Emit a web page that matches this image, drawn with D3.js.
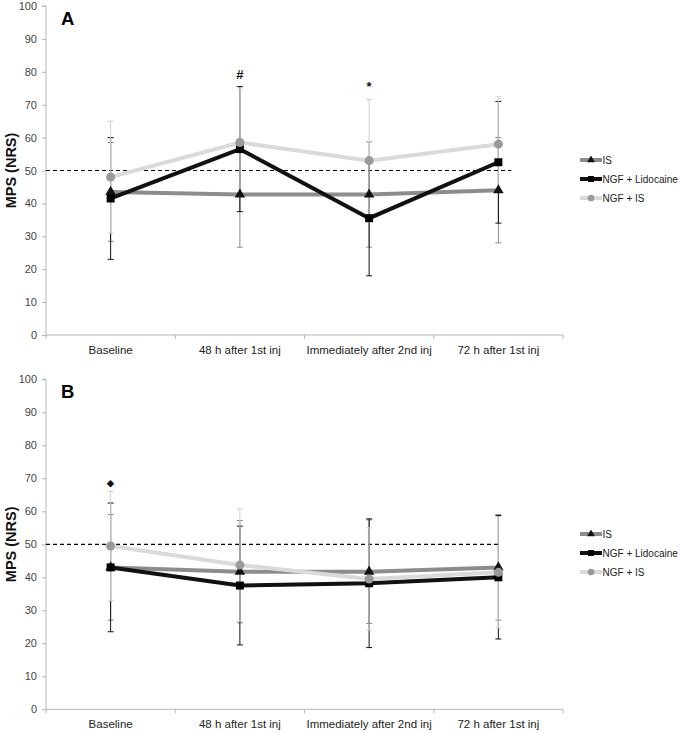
<!DOCTYPE html>
<html><head><meta charset="utf-8">
<script src="https://cdn.jsdelivr.net/npm/d3@7"></script>
<style>body{margin:0;background:#fff}svg{display:block;font-family:"Liberation Sans",Arial,sans-serif}</style>
</head><body><svg id="c" width="685" height="733"></svg>
<script>
const categories = ["Baseline", "48 h after 1st inj", "Immediately after 2nd inj", "72 h after 1st inj"];
const yTicks = [0,10,20,30,40,50,60,70,80,90,100];
const seriesNames = ["IS", "NGF + Lidocaine", "NGF + IS"];
// Panel A
const A_IS = [43.5, 42.7, 42.7, 44];
const A_IS_sd = [15, 16, 16, 16];
const A_Lido = [41.5, 56.5, 35.5, 52.5];
const A_Lido_sd = [18.5, 19, 17.5, 18.5];
const A_NGFIS = [48, 58.5, 53, 58];
const A_NGFIS_sd = [17, 16.5, 18.6, 14.4];
const A_marks = [{cat:1, y:79, t:"#"}, {cat:2, y:75.5, t:"*"}];
// Panel B
const B_IS = [43, 41.7, 41.7, 43];
const B_IS_sd = [16, 15.5, 15.7, 16];
const B_Lido = [43, 37.5, 38.2, 40];
const B_Lido_sd = [19.5, 18, 19.5, 18.7];
const B_NGFIS = [49.5, 43.7, 39.5, 41.5];
const B_NGFIS_sd = [16.5, 17, 15.5, 16.8];
const B_marks = [{cat:0, y:69, t:"◆"}];
const threshold = 50;

const colors = {"IS":"#8c8c8c", "NGF + Lidocaine":"#111111", "NGF + IS":"#dadada"};
const markerFill = {"IS":"#111", "NGF + Lidocaine":"#000", "NGF + IS":"#9a9a9a"};
const markerType = {"IS":d3.symbolTriangle, "NGF + Lidocaine":d3.symbolSquare, "NGF + IS":d3.symbolCircle};
const markerSize = {"IS":48, "NGF + Lidocaine":64, "NGF + IS":64};
const lineW = {"IS":4, "NGF + Lidocaine":4, "NGF + IS":4};

const svg = d3.select("#c");

function panel(cfg){
  const g = svg.append("g");
  const x = d3.scaleBand().domain(categories).range([46, 563]);
  const y = d3.scaleLinear().domain([0,100]).range([cfg.y0, cfg.y100]);
  // y axis
  const ya = g.append("g").attr("transform","translate(46,0)")
    .call(d3.axisLeft(y).tickValues(yTicks).tickSize(4).tickPadding(5));
  ya.selectAll("path,line").attr("stroke","#b5b5b5");
  ya.select(".domain").attr("d", `M-4,${y(100)}H0V${y(0)}`);
  ya.selectAll("text").attr("font-size",11).attr("fill","#444").attr("font-family","Liberation Sans, Arial, sans-serif");
  // x axis
  const xa = g.append("g").attr("transform",`translate(0,${y(0)})`);
  xa.append("line").attr("x1",46).attr("x2",563).attr("stroke","#b5b5b5");
  const bounds = categories.map(c=>x(c)).concat([x.range()[1]]);
  xa.selectAll("line.t").data(bounds).join("line").attr("class","t")
    .attr("x1",d=>d).attr("x2",d=>d).attr("y1",0).attr("y2",4).attr("stroke","#b5b5b5");
  xa.selectAll("text").data(categories).join("text")
    .attr("x",d=>x(d)+x.bandwidth()/2).attr("y",19).attr("text-anchor","middle")
    .attr("font-size",11.5).attr("fill","#222").text(d=>d);
  // y label
  g.append("text").attr("transform",`translate(15.5,${y(50)}) rotate(-90)`)
    .attr("text-anchor","middle").attr("font-weight","bold").attr("font-size",14.5).attr("fill","#111").text("MPS (NRS)");
  // panel letter
  g.append("text").attr("x",61).attr("y",y(100)+18.5).attr("font-weight","bold").attr("font-size",18.5).attr("fill","#000").text(cfg.letter);
  // threshold
  const cx = c => x(categories[c]) + x.bandwidth()/2;
  g.append("line").attr("x1",46).attr("x2",cx(3)+cfg.dashExt*x.bandwidth())
    .attr("y1",y(threshold)).attr("y2",y(threshold)).attr("stroke","#000").attr("stroke-width",1.2).attr("stroke-dasharray","4,3");
  // error bars
  cfg.series.forEach(s=>{
    s.vals.forEach((v,i)=>{
      const sd = s.sd[i], X = cx(i);
      const eg = g.append("g").attr("stroke", s.name==="NGF + IS" ? "#d0d0d0" : (s.name==="IS"?"#8a8a8a":"#111")).attr("stroke-width",1);
      eg.append("line").attr("x1",X).attr("x2",X).attr("y1",y(v-sd)).attr("y2",y(v+sd));
      [v-sd, v+sd].forEach(e=>eg.append("line").attr("x1",X-3).attr("x2",X+3).attr("y1",y(e)).attr("y2",y(e)));
    });
  });
  // lines & markers
  cfg.series.forEach(s=>{
    const line = d3.line().x((d,i)=>cx(i)).y(d=>y(d));
    g.append("path").datum(s.vals).attr("d",line).attr("fill","none")
      .attr("stroke",colors[s.name]).attr("stroke-width",lineW[s.name]).attr("stroke-linejoin","miter");
    g.selectAll(null).data(s.vals).join("path")
      .attr("transform",(d,i)=>`translate(${cx(i)},${y(d)})`)
      .attr("d",d3.symbol().type(markerType[s.name]).size(markerSize[s.name]))
      .attr("fill",markerFill[s.name]);
  });
  // significance marks
  g.selectAll(null).data(cfg.marks).join("text")
    .attr("x",d=>cx(d.cat)).attr("y",d=>y(d.y)+4).attr("text-anchor","middle")
    .attr("font-size",d=>d.t==="◆"?9:13).attr("font-weight","bold").attr("fill","#111").text(d=>d.t);
  // legend
  const lg = g.append("g").attr("transform",`translate(580,${cfg.legY})`);
  seriesNames.forEach((n,i)=>{
    const r = lg.append("g").attr("transform",`translate(0,${i*19})`);
    r.append("line").attr("x1",0).attr("x2",22).attr("stroke",colors[n]).attr("stroke-width",lineW[n]);
    r.append("path").attr("transform","translate(11,0)").attr("d",d3.symbol().type(markerType[n]).size(markerSize[n]*0.55)).attr("fill",markerFill[n]);
    r.append("text").attr("x",22.5).attr("y",3.5).attr("font-size",10).attr("fill","#222").text(n);
  });
}

panel({letter:"A", y0:335, y100:6, legY:160, dashExt:0.1, marks:A_marks, series:[
  {name:"IS", vals:A_IS, sd:A_IS_sd},
  {name:"NGF + Lidocaine", vals:A_Lido, sd:A_Lido_sd},
  {name:"NGF + IS", vals:A_NGFIS, sd:A_NGFIS_sd}]});
panel({letter:"B", y0:709.3, y100:379.3, legY:534, dashExt:0, marks:B_marks, series:[
  {name:"IS", vals:B_IS, sd:B_IS_sd},
  {name:"NGF + Lidocaine", vals:B_Lido, sd:B_Lido_sd},
  {name:"NGF + IS", vals:B_NGFIS, sd:B_NGFIS_sd}]});
</script></body></html>
